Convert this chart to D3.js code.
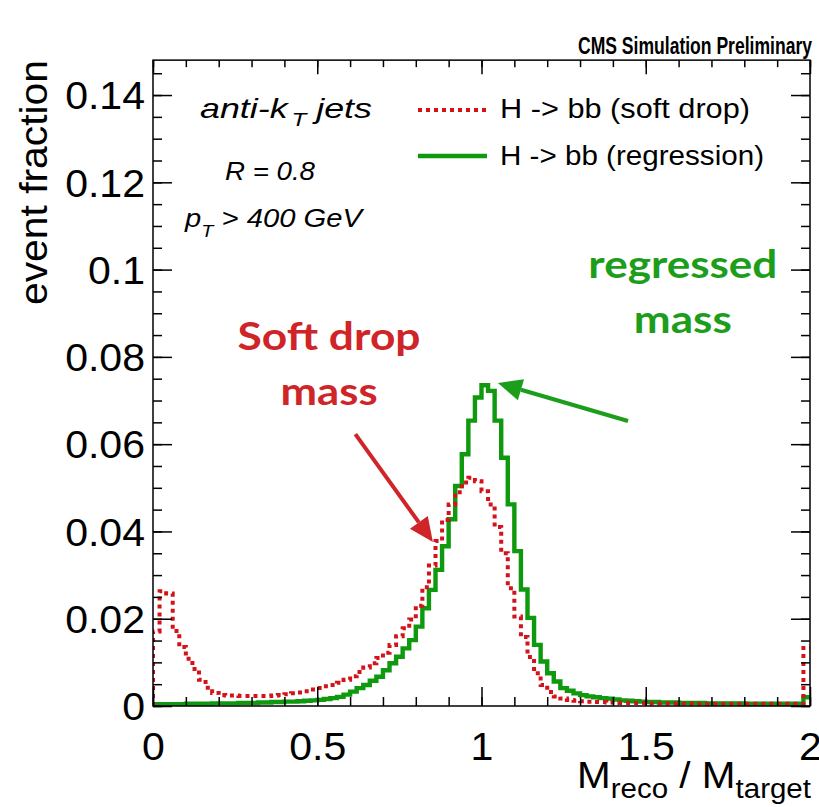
<!DOCTYPE html>
<html><head><meta charset="utf-8">
<script src="https://cdn.jsdelivr.net/npm/d3@7"></script>
<style>
html,body{margin:0;padding:0;background:#fff;}
svg{display:block;}
text{font-family:"Liberation Sans",Arial,Helvetica,sans-serif;}
</style></head>
<body>
<svg id="c" width="819" height="807"></svg>
<script>
// ---------------- DATA ----------------
const binEdgesMin = 0, binEdgesMax = 2, nBins = 100;
// H -> bb (soft drop), event fraction per bin (bin width 0.02)
const softDrop = [
 0.0171,0.0263,0.0258,0.0172,0.0135,0.0108,0.0085,0.0060,0.0042,0.0030,
 0.0025,0.0024,0.0024,0.0023,0.0023,0.0023,0.0023,0.0023,0.0024,0.0025,
 0.0027,0.0029,0.0031,0.0034,0.0038,0.0041,0.0045,0.0048,0.0053,0.0060,
 0.0068,0.0078,0.0088,0.0098,0.0110,0.0122,0.0140,0.0160,0.0178,0.0198,
 0.0230,0.0272,0.0322,0.0378,0.0426,0.0462,0.0490,0.0512,0.0523,0.0515,
 0.0492,0.0462,0.0410,0.0350,0.0270,0.0205,0.0158,0.0112,0.0075,0.0048,
 0.0032,0.0022,0.0017,0.0014,0.0012,0.0011,0.0010,0.0009,0.0009,0.0008,
 0.0008,0.0007,0.0007,0.0007,0.0007,0.0006,0.0006,0.0006,0.0006,0.0006,
 0.0006,0.0006,0.0005,0.0005,0.0005,0.0005,0.0005,0.0005,0.0005,0.0005,
 0.0005,0.0005,0.0005,0.0005,0.0005,0.0005,0.0005,0.0005,0.0005,0.0133
];
// H -> bb (regression)
const regression = [
 0.0004,0.0004,0.0004,0.0004,0.0004,0.0005,0.0005,0.0005,0.0005,0.0006,
 0.0006,0.0006,0.0006,0.0007,0.0007,0.0007,0.0008,0.0008,0.0009,0.0009,
 0.0010,0.0010,0.0011,0.0012,0.0013,0.0014,0.0016,0.0018,0.0021,0.0026,
 0.0033,0.0041,0.0048,0.0058,0.0067,0.0082,0.0098,0.0113,0.0132,0.0151,
 0.0182,0.0224,0.0266,0.0312,0.0366,0.0428,0.0504,0.0577,0.0654,0.0707,
 0.0735,0.0722,0.0654,0.0569,0.0462,0.0355,0.0267,0.0202,0.0140,0.0102,
 0.0075,0.0056,0.0041,0.0035,0.0029,0.0025,0.0022,0.0020,0.0018,0.0017,
 0.0015,0.0013,0.0012,0.0011,0.0010,0.0009,0.0009,0.0008,0.0008,0.0008,
 0.0007,0.0007,0.0007,0.0007,0.0006,0.0006,0.0006,0.0006,0.0006,0.0006,
 0.0005,0.0005,0.0005,0.0005,0.0005,0.0005,0.0005,0.0005,0.0005,0.0020
];
const xTicks = [0, 0.5, 1, 1.5, 2];
const xTickLabels = ["0", "0.5", "1", "1.5", "2"];
const yTicks = [0, 0.02, 0.04, 0.06, 0.08, 0.1, 0.12, 0.14];
const yTickLabels = ["0", "0.02", "0.04", "0.06", "0.08", "0.1", "0.12", "0.14"];
const legendLabels = ["H -> bb (soft drop)", "H -> bb (regression)"];
const yDomain = [0, 0.148];
// annotations in data coordinates
const annSoft = {lines:["Soft drop","mass"], x:0.536, y:[0.0816, 0.0690], arrowFrom:[0.616,0.0623], arrowTo:[0.852,0.0376]};
const annReg  = {lines:["regressed","mass"], x:1.613, y:[0.0981, 0.0855], arrowFrom:[1.446,0.0653], arrowTo:[1.050,0.0740]};

// ---------------- LAYOUT ----------------
const L = 153, R = 810, B = 706, T = 706 - 0.148*4364;
const RED = "#d41219", GREEN = "#0e990e";
const ANN_RED = "#cf2529", ANN_GREEN = "#1c9e1c";

const svg = d3.select("#c");
const x = d3.scaleLinear().domain([binEdgesMin, binEdgesMax]).range([L, R]);
const y = d3.scaleLinear().domain(yDomain).range([B, T]);

function stretch(sel, f){ sel.each(function(){ const w=this.getComputedTextLength(); d3.select(this).attr("textLength", w*f).attr("lengthAdjust","spacingAndGlyphs"); }); }
function fitWidth(sel, w){ sel.attr("textLength", w).attr("lengthAdjust","spacingAndGlyphs"); }

svg.append("clipPath").attr("id","fr").append("rect").attr("x",L).attr("y",T).attr("width",R-L).attr("height",B-T);

// histograms
const binW = (binEdgesMax-binEdgesMin)/nBins;
function pts(vals){ const p=[[0,0]]; vals.forEach((v,i)=>p.push([binEdgesMin+i*binW, v])); p.push([binEdgesMax, vals[vals.length-1]]); return p; }
const line = d3.line().x(d=>x(d[0])).y(d=>y(d[1])).curve(d3.curveStepAfter);
const hg = svg.append("g").attr("clip-path","url(#fr)");
hg.append("path").attr("d", line(pts(regression))).attr("fill","none").attr("stroke",GREEN).attr("stroke-width",4.4);
hg.append("path").attr("d", line(pts(softDrop))).attr("fill","none").attr("stroke",RED).attr("stroke-width",4).attr("stroke-dasharray","4,4");

// axes (ROOT style: inward ticks on all sides)
const minorX = d3.range(0, 2.0001, 0.1);
const minorY = d3.range(0, 0.1481, 0.005);
function clean(g){ g.select(".domain").remove(); g.selectAll("line").attr("stroke","#000").attr("stroke-width",1.5); }
const gxb = svg.append("g").attr("transform",`translate(0,${B})`)
  .call(d3.axisBottom(x).tickValues(xTicks).tickSize(-19).tickFormat((d,i)=>xTickLabels[i]));
clean(gxb);
gxb.selectAll("text").attr("y", 54).attr("dy", 0).attr("font-size", 38).attr("fill","#000")
  .style("font-family","'Liberation Sans',Arial,sans-serif");
stretch(gxb.selectAll("text"), 1.08);
clean(svg.append("g").attr("transform",`translate(0,${B})`).call(d3.axisBottom(x).tickValues(minorX).tickSize(-9).tickFormat("")));
clean(svg.append("g").attr("transform",`translate(0,${T})`).call(d3.axisTop(x).tickValues(xTicks).tickSize(-14).tickFormat("")));
clean(svg.append("g").attr("transform",`translate(0,${T})`).call(d3.axisTop(x).tickValues(minorX).tickSize(-7).tickFormat("")));

const gyl = svg.append("g").attr("transform",`translate(${L},0)`)
  .call(d3.axisLeft(y).tickValues(yTicks).tickSize(-19).tickFormat((d,i)=>yTickLabels[i]));
clean(gyl);
gyl.selectAll("text").attr("x", -8).attr("dy", "0.36em").attr("font-size", 38).attr("fill","#000")
  .style("font-family","'Liberation Sans',Arial,sans-serif");
stretch(gyl.selectAll("text"), 1.08);
clean(svg.append("g").attr("transform",`translate(${L},0)`).call(d3.axisLeft(y).tickValues(minorY).tickSize(-9).tickFormat("")));
clean(svg.append("g").attr("transform",`translate(${R},0)`).call(d3.axisRight(y).tickValues(yTicks).tickSize(-19).tickFormat("")));
clean(svg.append("g").attr("transform",`translate(${R},0)`).call(d3.axisRight(y).tickValues(minorY).tickSize(-9).tickFormat("")));

// frame
svg.append("rect").attr("x",L).attr("y",T).attr("width",R-L).attr("height",B-T)
  .attr("fill","none").attr("stroke","#000").attr("stroke-width",1.5);

// axis titles
const yt = svg.append("text").attr("transform",`translate(47,60) rotate(-90)`).attr("text-anchor","end")
  .attr("font-size",38).text("event fraction");
fitWidth(yt, 245);
const xt = svg.append("text").attr("x",811).attr("y",788).attr("text-anchor","end").attr("font-size",37);
xt.append("tspan").text("M");
xt.append("tspan").attr("font-size",27).attr("dy",10).text("reco");
xt.append("tspan").attr("dy",-10).text(" / M");
xt.append("tspan").attr("font-size",27).attr("dy",10).text("target");
fitWidth(xt, 234);

// CMS label
const cms = svg.append("text").attr("x",578).attr("y",54).attr("font-size",23).attr("font-weight","bold").text("CMS Simulation Preliminary");
fitWidth(cms, 234);

// inset text
const a1 = svg.append("text").attr("x",200).attr("y",118).attr("font-size",28).attr("font-style","italic");
a1.append("tspan").text("anti-k");
a1.append("tspan").attr("font-size",19).attr("dy",8).attr("dx",3).text("T");
a1.append("tspan").attr("dy",-8).text(" jets");
fitWidth(a1, 172);
const a2 = svg.append("text").attr("x",225).attr("y",180).attr("font-size",25).attr("font-style","italic").text("R = 0.8");
fitWidth(a2, 90);
const a3 = svg.append("text").attr("x",185).attr("y",227).attr("font-size",25).attr("font-style","italic");
a3.append("tspan").text("p");
a3.append("tspan").attr("font-size",17).attr("dy",10).text("T");
a3.append("tspan").attr("dy",-10).text(" > 400 GeV");
fitWidth(a3, 177);

// legend
const leg = svg.append("g");
const legY = [110, 156], legBase = [118, 165];
leg.append("line").attr("x1",418).attr("x2",487).attr("y1",legY[0]).attr("y2",legY[0])
  .attr("stroke",RED).attr("stroke-width",4).attr("stroke-dasharray","4,4");
leg.append("line").attr("x1",418).attr("x2",487).attr("y1",legY[1]).attr("y2",legY[1])
  .attr("stroke",GREEN).attr("stroke-width",4.4);
const legW = [250, 264];
legendLabels.forEach((s,i)=>{
  const t = leg.append("text").attr("x",500).attr("y",legBase[i]).attr("font-size",27).text(s);
  fitWidth(t, legW[i]);
});

// annotations
function arrow(a, col){
  const x1=x(a.arrowFrom[0]), y1=y(a.arrowFrom[1]), x2=x(a.arrowTo[0]), y2=y(a.arrowTo[1]);
  const ang=Math.atan2(y2-y1,x2-x1), hl=24, hw=11;
  const bx=x2-hl*Math.cos(ang), by=y2-hl*Math.sin(ang);
  svg.append("line").attr("x1",x1).attr("y1",y1).attr("x2",bx).attr("y2",by).attr("stroke",col).attr("stroke-width",4);
  svg.append("polygon").attr("points",[[x2,y2],[bx+hw*Math.sin(ang),by-hw*Math.cos(ang)],[bx-hw*Math.sin(ang),by+hw*Math.cos(ang)]].map(p=>p.join(",")).join(" "))
    .attr("fill",col);
}
function annText(a, col, widths){
  a.lines.forEach((s,i)=>{
    const t = svg.append("text").attr("x",x(a.x)).attr("y",y(a.y[i])).attr("text-anchor","middle")
      .attr("font-size",39).attr("font-weight","bold").attr("fill",col)
      .style("font-family","Lato,'Open Sans',sans-serif").text(s);
    fitWidth(t, widths[i]);
  });
}
arrow(annSoft, ANN_RED); annText(annSoft, ANN_RED, [183, 97]);
arrow(annReg, ANN_GREEN); annText(annReg, ANN_GREEN, [189, 98]);
</script>
</body></html>
